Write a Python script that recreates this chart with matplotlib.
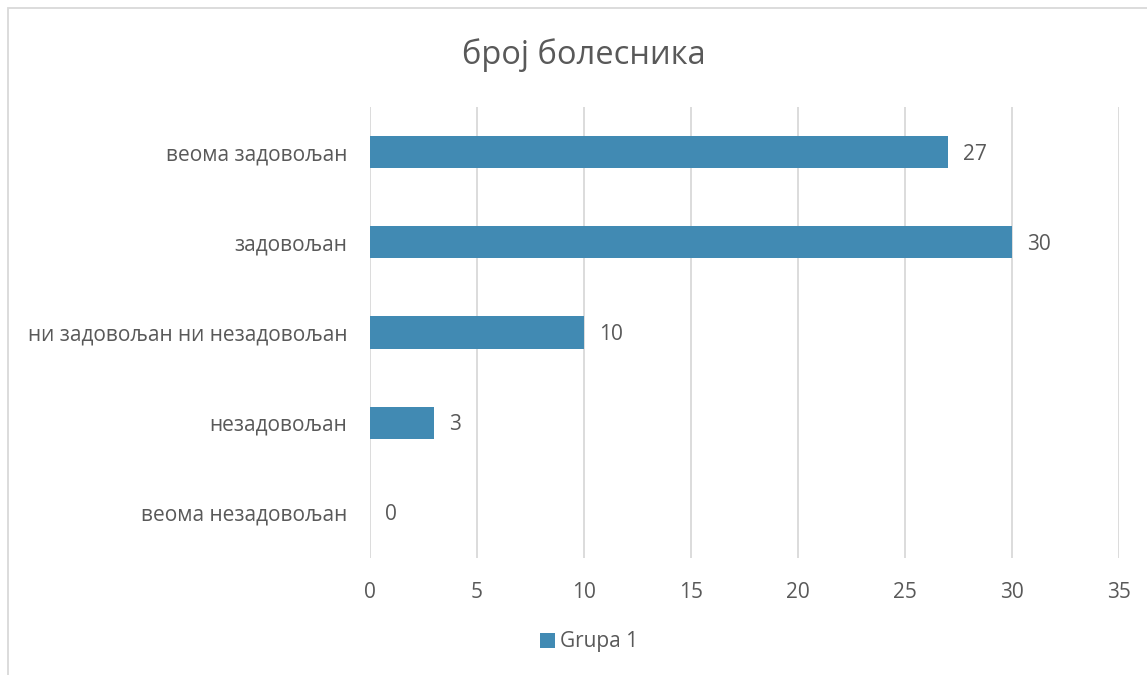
import matplotlib
matplotlib.use("Agg")
import matplotlib.pyplot as plt
from matplotlib.patches import Rectangle

categories = ["веома задовољан", "задовољан", "ни задовољан ни незадовољан", "незадовољан", "веома незадовољан"]
values = [27, 30, 10, 3, 0]
xticks = [0, 5, 10, 15, 20, 25, 30, 35]
series_name = "Grupa 1"
title = "број болесника"

plt.rcParams['font.family'] = ['Open Sans', 'DejaVu Sans']
bar_color = "#418ab3"
text_color = "#595959"
grid_color = "#d9d9d9"

W, H = 1147, 675
fig = plt.figure(figsize=(W/100, H/100), dpi=100)
ax = fig.add_axes([370/W, 1-558/H, (1119-370)/W, (558-107)/H])

ypos = list(range(len(categories)))[::-1]
ax.barh(ypos, values, height=0.355, color=bar_color, zorder=3, label=series_name)
ax.set_ylim(-0.5, len(categories)-0.5)
ax.set_xlim(0, 35)
ax.set_xticks(xticks)
ax.set_yticks(ypos)
ax.set_yticklabels(categories)
ax.grid(axis='x', color=grid_color, linewidth=1.3, zorder=0)
for s in ax.spines.values():
    s.set_visible(False)
ax.tick_params(axis='both', length=0, colors=text_color, labelsize=15)
ax.tick_params(axis='y', pad=16.5)
ax.tick_params(axis='x', pad=17)

for y, v in zip(ypos, values):
    ax.annotate(str(v), xy=(v, y), xytext=(15, -2), textcoords='offset pixels',
                va='center', ha='left', color=text_color, fontsize=15)

fig.text(584/W, 1-55/H, title, ha='center', va='center', color=text_color, fontsize=23.5)

leg = fig.legend(loc='center', bbox_to_anchor=(589/W, 1-642/H), frameon=False,
                 fontsize=15, handlelength=0.7, handleheight=0.7, handletextpad=0.25)
for t in leg.get_texts():
    t.set_color(text_color)

fig.patches.append(Rectangle((8/W, -0.1), 1.2, 1.1-8/H, transform=fig.transFigure,
                             fill=False, edgecolor="#d9d9d9", linewidth=1.3))

fig.savefig("out.png", dpi=100, facecolor="white")
